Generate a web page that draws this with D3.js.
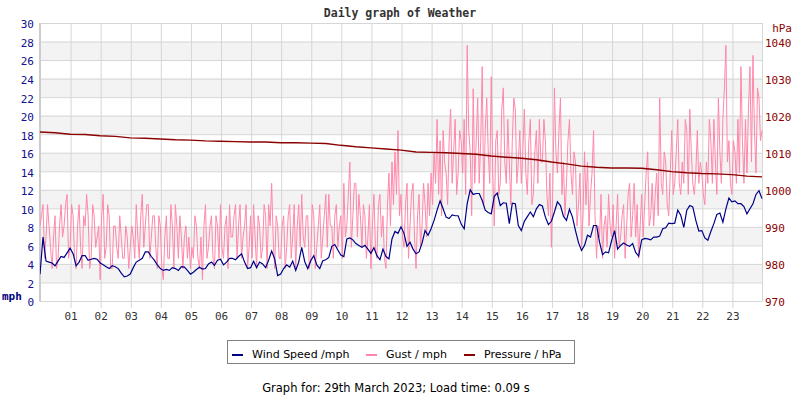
<!DOCTYPE html>
<html><head><meta charset="utf-8">
<script src="https://cdn.jsdelivr.net/npm/d3@7"></script>
<style>body{margin:0;background:#fff} svg{display:block}</style>
</head><body>
<svg id="c" width="800" height="400"></svg>
<script>
// ---- data ----
const hourLabels = ["01","02","03","04","05","06","07","08","09","10","11","12","13","14","15","16","17","18","19","20","21","22","23"];
const mphTicks = [0,2,4,6,8,10,12,14,16,18,20,22,24,26,28,30];
const hpaTicks = [970,980,990,1000,1010,1020,1030,1040];
// wind speed: samples every 6 minutes from 00:00 to 24:00
const windSpeed = [
2.9,6.9,4.3,4.2,4.1,3.8,4.3,4.8,4.7,5.2, 5.7,5.1,3.8,4.2,4.9,4.9,4.4,4.5,4.6,4.5,
4.1,3.9,3.7,3.5,3.8,3.7,3.5,3.0,2.6,2.7, 2.9,3.6,4.2,4.4,4.6,5.3,5.3,4.8,4.4,3.9,
3.5,3.3,3.4,3.3,3.6,3.5,3.3,3.7,3.65,3.3, 2.9,3.1,3.4,3.65,3.45,3.5,4.0,4.2,3.85,4.4,
4.5,3.9,4.2,4.6,4.6,4.45,4.8,5.1,4.2,3.5, 3.6,4.3,3.6,4.2,4.0,3.6,4.4,5.4,4.55,2.75,
2.9,3.5,3.9,3.65,4.3,3.3,4.2,5.8,4.25,3.5, 4.35,4.9,3.9,3.5,4.35,4.45,4.7,5.9,6.1,5.5,
4.95,4.8,6.7,6.8,6.6,6.2,6.0,5.8,6.0,5.6, 5.15,5.75,4.9,4.45,5.6,4.8,4.55,6.7,7.5,7.3,
8.0,7.3,5.9,6.35,5.6,5.1,5.3,6.25,7.6,7.1, 7.8,8.7,9.8,10.8,9.95,9.05,8.9,9.3,9.2,9.2,
8.3,7.8,10.5,12.0,11.5,11.6,11.6,10.85,9.8,9.55, 9.4,11.3,11.65,10.3,10.6,10.55,8.35,10.55,10.5,8.15,
7.6,8.6,9.1,9.6,9.1,9.95,10.4,10.25,9.05,8.25, 8.6,9.6,10.7,10.3,9.15,8.7,9.9,9.05,7.6,6.3,
5.45,6.0,7.1,6.9,8.15,8.15,6.35,5.0,5.3,5.2, 6.5,7.6,5.6,6.0,6.25,6.05,5.9,6.2,5.25,4.85,
6.6,6.75,6.7,6.6,6.9,6.9,7.0,7.8,7.9,8.4, 8.35,8.4,9.8,9.25,7.95,9.8,10.3,10.15,8.7,7.55,
7.6,6.8,6.55,7.5,8.35,9.35,9.5,8.5,9.95,11.1, 10.7,10.8,10.5,10.5,10.2,9.4,9.95,10.5,11.5,11.9,
11.05];
// gust: samples every 3 minutes from 00:00 to 24:00 (one row per hour)
const gust = [
8.1,9.2,10.4,4.6,6.9,10.4,8.1,5.8,3.5,6.9,9.2,3.5,4.6,8.1,10.4,6.9,8.1,10.4,11.5,4.6,
5.8,10.4,9.2,4.6,3.5,8.1,10.4,5.8,3.5,9.2,8.1,11.5,9.2,3.5,4.6,10.4,9.2,5.8,6.9,8.1,
2.3,9.2,11.5,4.6,5.8,10.4,9.2,3.5,3.5,8.1,8.1,5.8,4.6,9.2,6.9,4.6,4.6,8.1,6.9,3.5,
5.8,8.1,6.9,4.6,10.4,6.9,4.6,9.2,11.5,5.8,8.1,10.4,10.4,4.6,6.9,9.2,9.2,5.8,3.5,9.2,
8.1,3.5,2.3,6.9,9.2,4.6,4.6,10.4,8.1,3.5,10.4,8.1,4.6,9.2,6.9,3.5,6.9,8.1,4.6,6.9,
3.5,5.8,4.6,9.2,8.1,4.6,3.5,6.9,2.3,8.1,10.4,4.6,5.8,8.1,9.2,4.6,3.5,9.2,8.1,4.6,
10.4,5.8,4.6,8.1,9.2,3.5,10.4,6.9,6.9,9.2,10.4,4.6,8.1,10.4,4.6,6.9,8.1,10.4,3.5,5.8,
9.2,4.6,10.4,6.9,3.5,9.2,8.1,4.6,5.8,10.4,9.2,3.5,10.4,8.1,12.7,6.9,3.5,9.2,8.1,4.6,
4.6,8.1,9.2,3.5,5.8,9.2,10.4,4.6,6.9,10.4,3.5,8.1,10.4,5.8,11.5,6.9,5.8,9.2,9.2,3.5,
4.6,10.4,9.2,3.5,5.8,8.1,10.4,4.6,6.9,9.2,11.5,5.8,11.5,8.1,8.1,4.6,9.2,10.4,5.8,8.1,
9.2,4.6,12.7,6.9,8.1,11.5,15.0,5.8,9.2,12.7,12.7,6.9,11.5,9.2,5.8,10.4,9.2,4.6,6.9,10.4,
3.5,8.1,11.5,5.8,4.6,10.4,11.5,6.9,9.2,4.6,3.5,10.4,13.8,8.1,15.0,10.4,16.1,11.5,18.4,9.2,
11.5,6.9,5.8,10.4,12.7,4.6,8.1,11.5,12.7,6.9,3.5,9.2,11.5,5.8,8.1,12.7,10.4,6.9,12.7,9.2,
13.8,10.4,16.1,12.7,19.6,11.5,17.3,9.2,18.4,15.0,13.8,10.4,17.3,20.7,12.7,16.1,19.6,11.5,13.8,18.4,
17.3,13.8,19.6,11.5,27.6,18.4,16.1,9.2,22.9,12.7,17.3,21.9,12.7,17.3,25.3,10.4,18.4,21.9,16.1,12.7,
24.2,13.8,8.1,17.3,18.4,11.5,12.7,20.7,23.0,15.0,12.7,19.6,15.0,10.4,17.3,21.9,20.7,12.7,15.0,18.4,
12.7,16.1,20.7,13.8,11.5,17.3,19.6,10.4,11.5,16.1,18.4,12.7,19.6,15.0,15.0,19.6,17.3,11.5,9.2,13.8,
5.8,12.7,23.0,16.1,13.8,18.4,21.9,11.5,15.0,9.2,12.7,17.3,19.6,13.8,11.5,16.1,15.0,8.1,10.4,13.8,
5.8,9.2,16.1,10.4,15.0,8.1,11.5,13.8,18.4,9.2,4.6,8.1,6.9,11.5,4.6,8.1,9.2,5.8,11.5,8.1,
6.9,10.4,4.6,8.1,11.5,5.8,6.9,9.2,10.4,4.6,8.1,11.5,12.7,6.9,9.2,12.7,6.9,10.4,4.6,8.1,
11.5,6.9,10.4,13.8,16.1,8.1,9.2,12.7,8.1,11.5,13.8,9.2,21.9,12.7,11.5,16.1,15.0,10.4,9.2,13.8,
18.4,11.5,12.7,16.1,19.6,12.7,11.5,15.0,12.7,19.6,18.4,11.5,20.7,16.1,12.7,11.5,13.8,18.4,12.7,15.0,
13.8,11.5,10.4,15.0,12.7,19.6,17.3,12.7,19.6,15.0,11.5,21.9,16.1,12.7,19.6,23.0,27.6,15.0,17.3,12.7,
11.5,17.3,16.1,12.7,19.6,13.8,25.3,17.3,12.7,19.6,13.8,20.7,25.3,15.0,26.5,18.4,13.8,23.0,21.9,17.3,
18.4];
// pressure: samples every 30 minutes from 00:00 to 24:00
const pressure = [
1015.6,1015.4,1015.0,1014.9,1014.6,1014.4,1014.0,1013.9,1013.7,1013.5,
1013.4,1013.2,1013.1,1013.0,1012.9,1012.9,1012.7,1012.7,1012.6,1012.5,
1012.0,1011.6,1011.3,1011.0,1010.7,1010.2,1010.1,1010.0,1009.8,1009.6,
1009.1,1008.8,1008.5,1008.1,1007.5,1007.0,1006.4,1006.1,1005.9,1005.9,
1005.8,1005.4,1004.9,1004.6,1004.4,1004.3,1004.1,1003.7,1003.5];
const seriesNames = ["Wind Speed /mph","Gust / mph","Pressure / hPa"];
const seriesColors = ["#000088","#ff88aa","#8b0000"];
const titleText = "Daily graph of Weather";
const footerText = "Graph for: 29th March 2023; Load time: 0.09 s";

// ---- drawing ----
const svg = d3.select("#c");
const L = 40, R = 762, T = 23, B = 301;
const x = d3.scaleLinear().domain([0,24]).range([L,R]);
const y = d3.scaleLinear().domain([0,30]).range([B,T]);
const y2 = d3.scaleLinear().domain([970,1045]).range([B,T]);
const mono = "'DejaVu Sans Mono', monospace";
const sans = "'DejaVu Sans', Verdana, sans-serif";

svg.append("rect").attr("width",800).attr("height",400).attr("fill","#fff");

// alternating bands
const bandStarts = mphTicks.filter(t => t < 30 && (t/2) % 2 === 1);
svg.append("g").selectAll("rect").data(bandStarts).join("rect")
  .attr("x", L).attr("width", R-L)
  .attr("y", d => y(d+2)).attr("height", d => y(d)-y(d+2))
  .attr("fill", "#f3f3f3");

// horizontal grid
svg.append("g").selectAll("line").data(mphTicks).join("line")
  .attr("x1", L).attr("x2", R)
  .attr("y1", d => y(d)+0.5).attr("y2", d => y(d)+0.5)
  .attr("stroke", "#d6d6d6").attr("stroke-width", 1);

// bottom axis with long ticks as vertical grid
const hours = hourLabels.map(h => +h);
const xa = svg.append("g").attr("transform", `translate(0.5,308)`)
  .call(d3.axisBottom(x).tickValues(hours).tickFormat((d,i) => hourLabels[i])
        .tickSize(-(308-T)).tickPadding(4));
xa.select(".domain").remove();
xa.selectAll("line").attr("stroke", "#d6d6d6");
xa.selectAll("text").attr("font-family", mono).attr("font-size", 11).attr("fill", "#333");

// frame lines
svg.append("line").attr("x1",L).attr("x2",L).attr("y1",T).attr("y2",B+0.5)
  .attr("stroke","#cccccc").attr("stroke-width",2);
svg.append("line").attr("x1",R+0.5).attr("x2",R+0.5).attr("y1",T).attr("y2",B+0.5)
  .attr("stroke","#d6d6d6");

// left axis
const ya = svg.append("g").attr("transform", `translate(${L},0.5)`)
  .call(d3.axisLeft(y).tickValues(mphTicks).tickSize(0).tickPadding(6));
ya.select(".domain").remove();
ya.selectAll("text").attr("font-family", mono).attr("font-size", 11)
  .attr("fill", "#101090").attr("dy", "0.4em");

// right axis
const y2a = svg.append("g").attr("transform", `translate(${R},0.5)`)
  .call(d3.axisRight(y2).tickValues(hpaTicks).tickFormat(d3.format("d")).tickSize(0).tickPadding(3));
y2a.select(".domain").remove();
y2a.selectAll("text").attr("font-family", mono).attr("font-size", 11)
  .attr("fill", "#8b0000").attr("dy", "0.4em");

// units
svg.append("text").attr("x", 2).attr("y", 300).text("mph")
  .attr("font-family", mono).attr("font-size", 11).attr("font-weight", "bold").attr("fill", "#000080");
svg.append("text").attr("x", 792).attr("y", 32).attr("text-anchor","end").text("hPa")
  .attr("font-family", mono).attr("font-size", 11).attr("fill", "#8b0000");

// title
svg.append("text").attr("x", 400).attr("y", 17).attr("text-anchor","middle").text(titleText)
  .attr("font-family", mono).attr("font-size", 11.5).attr("font-weight","bold").attr("fill","#333");

// series
svg.append("clipPath").attr("id","pc").append("rect")
  .attr("x",L).attr("y",T).attr("width",R-L+1).attr("height",B-T+1);
const g = svg.append("g").attr("clip-path","url(#pc)");
g.append("path").datum(gust).attr("d", d3.line().x((d,i) => x(i*0.05)).y(d => y(d)))
  .attr("fill","none").attr("stroke", seriesColors[1]).attr("stroke-width",1);
g.append("path").datum(windSpeed).attr("d", d3.line().x((d,i) => x(i*0.1)).y(d => y(d)))
  .attr("fill","none").attr("stroke", seriesColors[0]).attr("stroke-width",1.2);
g.append("path").datum(pressure).attr("d", d3.line().x((d,i) => x(i*0.5)).y(d => y2(d)))
  .attr("fill","none").attr("stroke", seriesColors[2]).attr("stroke-width",1.4);

// legend
const lg = svg.append("g");
lg.append("rect").attr("x",227.5).attr("y",340.5).attr("width",347).attr("height",23)
  .attr("fill","#fff").attr("stroke","#808080");
const itemX = [232, 366, 464];
seriesNames.forEach((n,i) => {
  lg.append("line").attr("x1",itemX[i]).attr("x2",itemX[i]+11).attr("y1",355).attr("y2",355)
    .attr("stroke",seriesColors[i]).attr("stroke-width",2);
  lg.append("text").attr("x",itemX[i]+20).attr("y",358).text(n)
    .attr("font-family",sans).attr("font-size",11).attr("fill","#000");
});

// footer
svg.append("text").attr("x",396).attr("y",392).attr("text-anchor","middle").text(footerText)
  .attr("font-family",sans).attr("font-size",11.5).attr("fill","#000");
</script>
</body></html>
